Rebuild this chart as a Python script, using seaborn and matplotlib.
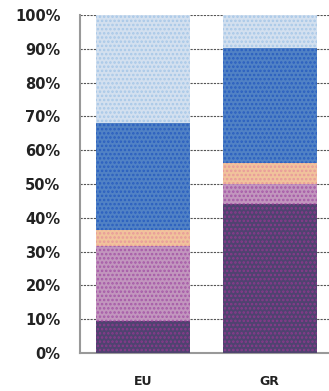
import numpy as np
import pandas as pd
import matplotlib
matplotlib.use("Agg")
import matplotlib.pyplot as plt
import seaborn as sns

# stacked shares (%) per country, bottom to top
countries = ["EU", "GR"]
seg1 = [9.6, 44.0]    # dark purple
seg2 = [22.1, 6.0]    # pink
seg3 = [4.7, 6.2]     # orange
seg4 = [31.7, 34.1]   # blue
seg5 = [31.9, 9.7]    # light blue

segments = [seg1, seg2, seg3, seg4, seg5]
face_colors = ["#4c3b78", "#c98fc4", "#ffc28e", "#3d7fd9", "#cfe0f3"]
dot_colors = ["#8a3a8c", "#a65aa8", "#e89a9a", "#2a5fc0", "#a8c8e8"]

sns.set_style("white")
plt.rcParams["font.family"] = ["DejaVu Sans"]
plt.rcParams["hatch.linewidth"] = 1.2

fig = plt.figure(figsize=(3.29, 3.91), dpi=100)
ax = fig.add_axes([80 / 329, 38 / 391, 253 / 329, 338 / 391])

cum = np.cumsum(np.array(segments), axis=0)
# draw tallest cumulative first so lower segments overlay
for i in range(len(segments) - 1, -1, -1):
    df = pd.DataFrame({"country": countries, "value": cum[i]})
    sns.barplot(data=df, x="country", y="value", ax=ax, color=face_colors[i],
                width=0.74, edgecolor=dot_colors[i], linewidth=0,
                hatch="....", zorder=3)

ax.set_xlim(-0.5, 1.5)
ax.set_ylim(0, 100)
ax.set_yticks(np.arange(0, 101, 10))
ax.set_yticklabels([f"{v}%" for v in range(0, 101, 10)])
ax.set_xticks([0, 1])
ax.set_xticklabels(countries)
ax.set_xticks([0.5], minor=True)
ax.set_xlabel("")
ax.set_ylabel("")

ax.yaxis.grid(True, linestyle=(0, (2, 1)), color="#555555", linewidth=0.8, zorder=0)
ax.set_axisbelow(True)
for s in ["top", "right"]:
    ax.spines[s].set_visible(False)
for s in ["left", "bottom"]:
    ax.spines[s].set_color("#999999")
    ax.spines[s].set_linewidth(1.5)

ax.tick_params(axis="y", length=6, width=1, color="#777777", pad=8,
               labelsize=10.5, labelcolor="#222222")
ax.tick_params(axis="x", which="major", length=0, pad=16, labelsize=9,
               labelcolor="#222222")
ax.tick_params(axis="x", which="minor", length=4, width=1, color="#999999")
for lbl in ax.get_yticklabels() + ax.get_xticklabels():
    lbl.set_fontweight("bold")

fig.savefig("out.png", dpi=100)
